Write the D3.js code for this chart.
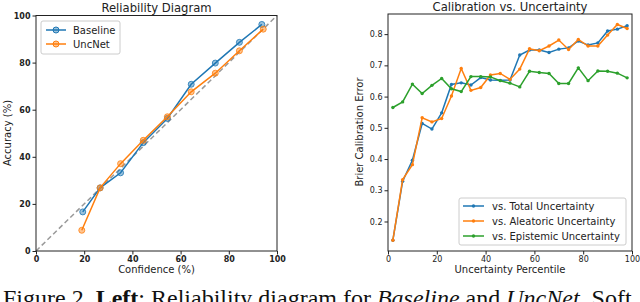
<!DOCTYPE html>
<html><head><meta charset="utf-8">
<script src="https://cdn.jsdelivr.net/npm/d3@7"></script>
<style>body{margin:0;background:#fff}svg{display:block}svg text{font-family:"DejaVu Sans",sans-serif}svg text.cap{font-family:"Liberation Serif","Times New Roman",serif}</style>
</head><body><svg id="c" width="640" height="302"></svg>
<script>
// Left: reliability diagram
const confBaseline = [19.4, 26.6, 35.1, 44.5, 54.5, 64.4, 74.4, 84.4, 93.7];
const accBaseline  = [16.6, 26.8, 33.2, 46.0, 56.3, 70.8, 79.8, 88.6, 96.2];
const confUncNet   = [19.0, 26.6, 35.1, 44.5, 54.5, 64.4, 74.4, 84.4, 94.3];
const accUncNet    = [8.8, 26.8, 37.1, 47.0, 57.0, 67.6, 75.5, 85.0, 94.2];
const leftTicks = [0, 20, 40, 60, 80, 100];

// Right: calibration vs uncertainty
const percentiles = [2,6,10,14,18,22,26,30,34,38,42,46,50,54,58,62,66,70,74,78,82,86,90,94,98];
const totalUnc     = [0.140,0.329,0.396,0.514,0.496,0.548,0.639,0.644,0.637,0.661,0.653,0.652,0.653,0.733,0.749,0.749,0.741,0.752,0.756,0.778,0.765,0.772,0.810,0.816,0.827];
const aleatoricUnc = [0.140,0.334,0.382,0.532,0.519,0.530,0.602,0.690,0.620,0.629,0.669,0.674,0.655,0.688,0.753,0.747,0.762,0.781,0.751,0.783,0.762,0.762,0.797,0.831,0.818];
const epistemicUnc = [0.565,0.583,0.640,0.610,0.636,0.658,0.625,0.616,0.664,0.664,0.663,0.651,0.643,0.631,0.681,0.677,0.674,0.642,0.642,0.692,0.651,0.682,0.681,0.675,0.660];
const rightXTicks = [0, 20, 40, 60, 80, 100];
const rightYTicks = [0.2, 0.3, 0.4, 0.5, 0.6, 0.7, 0.8];

const C = {blue:"#1f77b4", orange:"#ff7f0e", green:"#2ca02c"};
const svg = d3.select("#c");

// ---------- Left chart ----------
{
  const x = d3.scaleLinear().domain([0,100]).range([36,277]);
  const y = d3.scaleLinear().domain([0,100]).range([251,15.5]);
  const g = svg.append("g");
  const xa = g.append("g").attr("transform","translate(0,251)").call(d3.axisBottom(x).tickValues(leftTicks).tickSize(3.5).tickPadding(2));
  const ya = g.append("g").attr("transform","translate(36,0)").call(d3.axisLeft(y).tickValues(leftTicks).tickSize(3.5).tickPadding(2));
  [xa,ya].forEach(a=>{a.select(".domain").remove();a.selectAll("text").attr("font-size",8).attr("font-weight","bold").attr("fill","#222");a.selectAll("line").attr("stroke","#222")});
  g.append("line").attr("x1",x(0)).attr("y1",y(0)).attr("x2",x(100)).attr("y2",y(100)).attr("stroke","#999").attr("stroke-width",1.5).attr("stroke-dasharray","5,3");
  const line = d3.line();
  const ser = [
    {xs:confBaseline, ys:accBaseline, c:C.blue, name:"Baseline"},
    {xs:confUncNet, ys:accUncNet, c:C.orange, name:"UncNet"}
  ];
  ser.forEach(s=>{
    const pts = s.xs.map((v,i)=>[x(v),y(s.ys[i])]);
    g.append("path").attr("d",line(pts)).attr("fill","none").attr("stroke",s.c).attr("stroke-width",1.5);
    g.selectAll(null).data(pts).enter().append("circle").attr("cx",d=>d[0]).attr("cy",d=>d[1]).attr("r",3).attr("fill",s.c).attr("fill-opacity",0.45).attr("stroke",s.c).attr("stroke-width",1).attr("stroke-opacity",0.8);
  });
  g.append("rect").attr("x",36).attr("y",15.5).attr("width",241).attr("height",235.5).attr("fill","none").attr("stroke","#222").attr("stroke-width",1);
  const lg = g.append("g");
  lg.append("rect").attr("x",41).attr("y",21).attr("width",79).attr("height",33).attr("rx",2).attr("fill","#fff").attr("fill-opacity",0.8).attr("stroke","#ccc");
  ser.forEach((s,i)=>{
    const yy = 30 + i*14;
    lg.append("line").attr("x1",46).attr("x2",66).attr("y1",yy).attr("y2",yy).attr("stroke",s.c).attr("stroke-width",1.5);
    lg.append("circle").attr("cx",56).attr("cy",yy).attr("r",3).attr("fill",s.c).attr("fill-opacity",0.45).attr("stroke",s.c);
    lg.append("text").attr("x",73).attr("y",yy+3.5).attr("font-size",10).attr("fill","#222").text(s.name);
  });
  g.append("text").attr("x",156.5).attr("y",12).attr("text-anchor","middle").attr("font-size",11.6).attr("fill","#222").text("Reliability Diagram");
  g.append("text").attr("x",156.5).attr("y",273).attr("text-anchor","middle").attr("font-size",10).attr("fill","#222").text("Confidence (%)");
  g.append("text").attr("transform","translate(11,133) rotate(-90)").attr("text-anchor","middle").attr("font-size",10).attr("fill","#222").text("Accuracy (%)");
}

// ---------- Right chart ----------
{
  const x = d3.scaleLinear().domain([0,100]).range([388,632]);
  const y = d3.scaleLinear().domain([0.1055,0.8645]).range([251,14]);
  const g = svg.append("g");
  const xa = g.append("g").attr("transform","translate(0,251)").call(d3.axisBottom(x).tickValues(rightXTicks).tickSize(3.5).tickPadding(2));
  const ya = g.append("g").attr("transform","translate(388,0)").call(d3.axisLeft(y).tickValues(rightYTicks).tickFormat(d3.format(".1f")).tickSize(3.5).tickPadding(2));
  [xa,ya].forEach(a=>{a.select(".domain").remove();a.selectAll("text").attr("font-size",8).attr("fill","#222");a.selectAll("line").attr("stroke","#222")});
  const ser = [
    {ys:totalUnc, c:C.blue, name:"vs. Total Uncertainty"},
    {ys:aleatoricUnc, c:C.orange, name:"vs. Aleatoric Uncertainty"},
    {ys:epistemicUnc, c:C.green, name:"vs. Epistemic Uncertainty"}
  ];
  const line = d3.line();
  ser.forEach(s=>{
    const pts = percentiles.map((p,i)=>[x(p),y(s.ys[i])]);
    g.append("path").attr("d",line(pts)).attr("fill","none").attr("stroke",s.c).attr("stroke-width",1.5);
    g.selectAll(null).data(pts).enter().append("circle").attr("cx",d=>d[0]).attr("cy",d=>d[1]).attr("r",1.7).attr("fill",s.c);
  });
  g.append("rect").attr("x",388).attr("y",14).attr("width",244).attr("height",237).attr("fill","none").attr("stroke","#222").attr("stroke-width",1);
  const lg = g.append("g");
  lg.append("rect").attr("x",459).attr("y",198).attr("width",167).attr("height",47).attr("rx",2).attr("fill","#fff").attr("fill-opacity",0.8).attr("stroke","#ccc");
  ser.forEach((s,i)=>{
    const yy = 206 + i*15;
    lg.append("line").attr("x1",463).attr("x2",484).attr("y1",yy).attr("y2",yy).attr("stroke",s.c).attr("stroke-width",1.5);
    lg.append("circle").attr("cx",473.5).attr("cy",yy).attr("r",1.7).attr("fill",s.c);
    lg.append("text").attr("x",492).attr("y",yy+3.5).attr("font-size",10).attr("fill","#222").text(s.name);
  });
  g.append("text").attr("x",510).attr("y",11).attr("text-anchor","middle").attr("font-size",11.6).attr("fill","#222").text("Calibration vs. Uncertainty");
  g.append("text").attr("x",510).attr("y",273).attr("text-anchor","middle").attr("font-size",10).attr("fill","#222").text("Uncertainty Percentile");
  g.append("text").attr("transform","translate(363,132) rotate(-90)").attr("text-anchor","middle").attr("font-size",10).attr("fill","#222").text("Brier Calibration Error");
}

// caption (cut off at the bottom edge, as in the reference)
{
  const t = svg.append("text").attr("class","cap").attr("x",3).attr("y",306).attr("font-size",24).attr("fill","#111");
  t.append("tspan").text("Figure 2. ");
  t.append("tspan").attr("font-weight","bold").text("Left");
  t.append("tspan").text(": Reliability diagram for ");
  t.append("tspan").attr("font-style","italic").text("Baseline");
  t.append("tspan").text(" and ");
  t.append("tspan").attr("font-style","italic").text("UncNet");
  t.append("tspan").text(". Soft");
}
</script></body></html>
